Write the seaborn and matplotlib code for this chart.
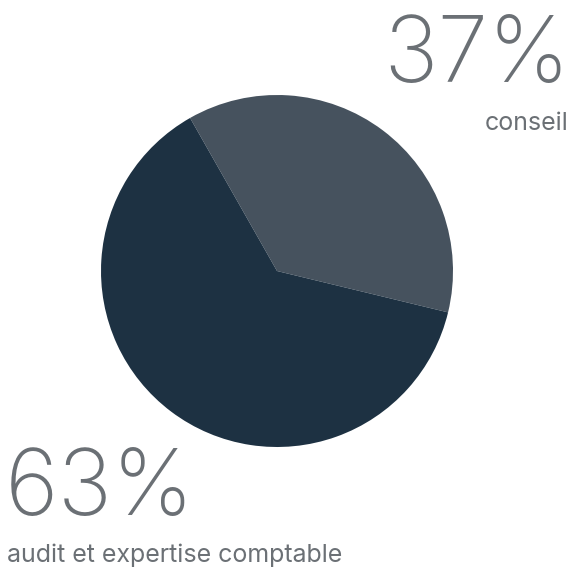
import matplotlib
matplotlib.use("Agg")
import matplotlib.pyplot as plt
import seaborn as sns

# revenue split
labels = ["conseil", "audit et expertise comptable"]
shares = [37, 63]
slice_colors = ["#46525e", "#1d3142"]
text_grey = "#6b7075"

sns.set_theme(style="white")
plt.rcParams['font.family'] = ['Inter', 'DejaVu Sans']

W, H = 571, 568
fig = plt.figure(figsize=(W / 100, H / 100), dpi=100)
ax = fig.add_axes([0, 0, 1, 1])

# pie centred at pixel (277, 271), radius 176
ax.pie(shares, colors=slice_colors, startangle=-13.6, counterclock=True,
       center=(277, H - 271), radius=176, frame=True,
       wedgeprops=dict(linewidth=0))
ax.set_xlim(0, W)
ax.set_ylim(0, H)
ax.set_aspect("equal")
ax.axis("off")

# big percentages + labels
ax.text(570, H - 82, f"{shares[0]}%", ha="right", va="baseline",
        fontsize=66, fontweight="light", color=text_grey)
ax.text(568, H - 130, labels[0], ha="right", va="baseline",
        fontsize=18, color=text_grey)
ax.text(5, H - 515, f"{shares[1]}%", ha="left", va="baseline",
        fontsize=66, fontweight="light", color=text_grey)
ax.text(7, H - 562, labels[1], ha="left", va="baseline",
        fontsize=18, color=text_grey)

fig.savefig("out.png", dpi=100)
